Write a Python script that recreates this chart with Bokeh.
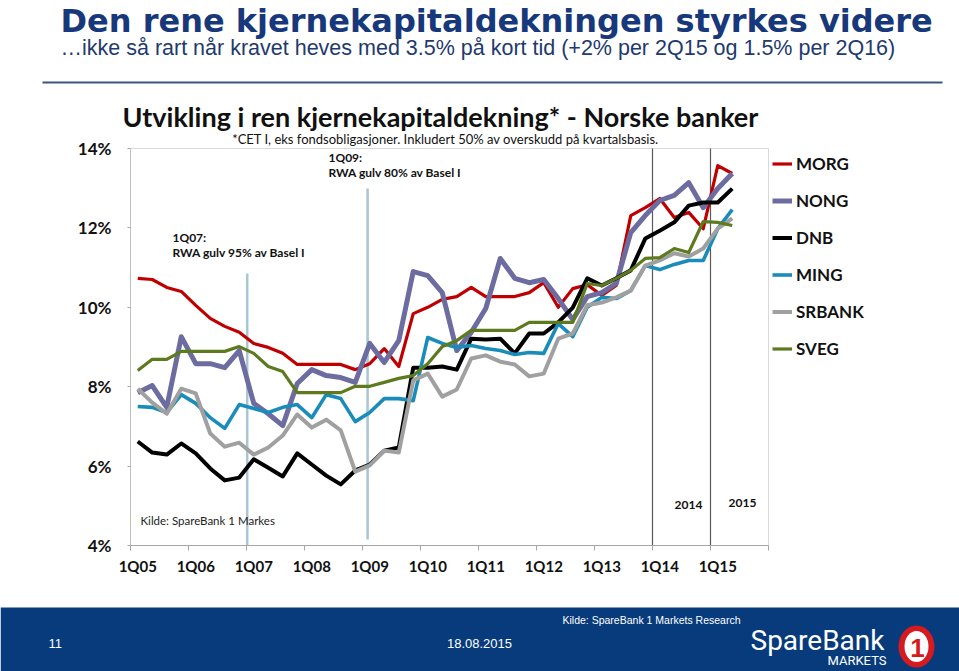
from bokeh.plotting import figure
from bokeh.models import Range1d, FixedTicker, Legend, LegendItem
from bokeh.embed import file_html
from bokeh.resources import INLINE
from bokeh.core.properties import value

# ---------------- data ----------------
quarters = [f"{q}Q{y:02d}" for y in range(5, 16) for q in range(1, 5)][:42]
x_tick_labels = ["1Q05", "1Q06", "1Q07", "1Q08", "1Q09", "1Q10",
                 "1Q11", "1Q12", "1Q13", "1Q14", "1Q15"]
y_tick_values = [4, 6, 8, 10, 12, 14]
y_tick_labels = ["4%", "6%", "8%", "10%", "12%", "14%"]

morg = [10.73, 10.70, 10.50, 10.40, 10.05, 9.72, 9.52, 9.37, 9.09, 8.99,
        8.84, 8.56, 8.56, 8.56, 8.56, 8.43, 8.58, 8.96, 8.51, 9.84,
        10.00, 10.20, 10.27, 10.50, 10.27, 10.27, 10.27, 10.37, 10.62, 10.00,
        10.47, 10.57, 10.30, 10.55, 12.31, 12.51, 12.74, 12.26, 12.39, 11.98,
        13.57, 13.37]
nong = [7.85, 8.03, 7.48, 9.26, 8.58, 8.58, 8.48, 8.91, 7.58, 7.32,
        7.02, 8.08, 8.43, 8.28, 8.23, 8.11, 9.09, 8.61, 9.16, 10.90,
        10.80, 10.37, 8.91, 9.37, 9.97, 11.23, 10.73, 10.62, 10.70, 10.22,
        9.69, 10.27, 10.37, 10.60, 11.88, 12.31, 12.69, 12.82, 13.14, 12.51,
        12.99, 13.37]
dnb = [6.62, 6.34, 6.29, 6.57, 6.32, 5.94, 5.64, 5.71, 6.17, 5.96,
       5.74, 6.32, 6.04, 5.76, 5.54, 5.89, 6.04, 6.39, 6.47, 8.48,
       8.48, 8.51, 8.43, 9.21, 9.19, 9.21, 8.84, 9.34, 9.34, 9.62,
       9.99, 10.73, 10.55, 10.73, 10.93, 11.73, 11.93, 12.14, 12.56, 12.64,
       12.64, 12.99]
ming = [7.50, 7.48, 7.35, 7.80, 7.58, 7.22, 6.95, 7.55, 7.45, 7.35,
        7.48, 7.55, 7.22, 7.80, 7.70, 7.12, 7.35, 7.70, 7.70, 7.65,
        9.24, 9.09, 8.99, 9.04, 8.96, 8.91, 8.81, 8.86, 8.84, 9.59,
        9.26, 10.00, 10.25, 10.22, 10.42, 11.05, 10.95, 11.08, 11.18, 11.18,
        11.98, 12.46]
srbank = [7.95, 7.60, 7.32, 7.95, 7.83, 6.82, 6.49, 6.59, 6.29, 6.47,
          6.77, 7.30, 6.97, 7.17, 6.90, 5.86, 6.02, 6.39, 6.34, 8.16,
          8.33, 7.75, 7.93, 8.71, 8.79, 8.63, 8.56, 8.26, 8.33, 9.21,
          9.34, 10.05, 10.12, 10.25, 10.42, 11.05, 11.18, 11.36, 11.28, 11.48,
          11.98, 12.24]
sveg = [8.41, 8.69, 8.69, 8.89, 8.89, 8.89, 8.89, 9.01, 8.84, 8.51,
        8.38, 7.85, 7.85, 7.85, 7.85, 8.01, 8.01, 8.11, 8.21, 8.28,
        8.58, 9.01, 9.16, 9.42, 9.42, 9.42, 9.42, 9.62, 9.62, 9.62,
        9.62, 10.60, 10.55, 10.73, 10.93, 11.23, 11.25, 11.48, 11.38, 12.16,
        12.14, 12.06]

series_names = ["MORG", "NONG", "DNB", "MING", "SRBANK", "SVEG"]
series_values = [morg, nong, dnb, ming, srbank, sveg]
series_colors = ["#C00000", "#6C6CA0", "#000000", "#1A8CBA", "#A0A0A0", "#5E7A1E"]
series_widths = [3.2, 5.0, 4.0, 3.6, 4.0, 3.2]

# regulatory event markers (quarter positions) and year markers
reg_event_x = [7.55, 15.85]
reg_event_top = [10.85, 12.99]
reg_event_bottom = [4.0, 4.15]
year_marker_x = [35.5, 39.5]

X_MIN, X_MAX = -0.5, 43.5   # plotted quarter span (axis extent)
Y_MIN, Y_MAX = 4, 14        # percent span (axis extent)

W, H = 959, 671
BLUE = "#17387A"
FOOT = "#073B7B"


# page pixel -> data coordinate helpers (used only to place annotations)
def dx(px):
    return X_MIN + (px - 130) / 14.5


def dy(py):
    return Y_MIN + (545 - py) / 39.7


p = figure(width=W, height=H,
           x_range=Range1d(dx(0), dx(W)), y_range=Range1d(dy(H), dy(0)),
           output_backend="svg", toolbar_location=None, tools="", min_border=0)
p.title.visible = False
p.xgrid.visible = False
p.ygrid.visible = False
p.outline_line_color = None
p.background_fill_color = "white"
p.border_fill_color = "white"

# ---- axes (kept in their panels, drawn at fixed positions) ----
maj = [4 * k for k in range(len(x_tick_labels))]
p.xaxis.fixed_location = Y_MIN
p.xaxis.bounds = (X_MIN, X_MAX)
p.xaxis.ticker = FixedTicker(ticks=maj, minor_ticks=[4 * k - 0.5 for k in range(12)])
p.xaxis.major_label_overrides = {m: lab for m, lab in zip(maj, x_tick_labels)}
p.xaxis.major_tick_out = 0
p.xaxis.major_tick_in = 0
p.xaxis.minor_tick_out = 5
p.xaxis.minor_tick_in = 0
p.xaxis.minor_tick_line_color = "#A6A6A6"
p.xaxis.axis_line_color = "#A6A6A6"
p.xaxis.major_label_text_font = "Lato"
p.xaxis.major_label_text_font_style = "bold"
p.xaxis.major_label_text_font_size = "15px"
p.xaxis.major_label_text_color = "#111111"
p.xaxis.major_label_standoff = 6

p.yaxis.fixed_location = X_MIN
p.yaxis.bounds = (Y_MIN, Y_MAX)
p.yaxis.ticker = FixedTicker(ticks=y_tick_values, minor_ticks=[])
p.yaxis.major_label_overrides = {v: lab for v, lab in zip(y_tick_values, y_tick_labels)}
p.yaxis.major_tick_out = 3
p.yaxis.major_tick_in = 0
p.yaxis.major_tick_line_color = "#A6A6A6"
p.yaxis.axis_line_color = "#BFBFBF"
p.yaxis.major_label_text_font = "Lato"
p.yaxis.major_label_text_font_style = "bold"
p.yaxis.major_label_text_font_size = "17px"
p.yaxis.major_label_text_color = "#111111"
p.yaxis.major_label_standoff = 16

# plot-area border (top and right)
p.segment(x0=[X_MIN, X_MAX], y0=[Y_MAX, Y_MIN], x1=[X_MAX, X_MAX], y1=[Y_MAX, Y_MAX],
          line_color="#D9D9D9", line_width=1)

# event lines
p.segment(x0=reg_event_x, y0=reg_event_bottom, x1=reg_event_x, y1=reg_event_top,
          line_color="#A9C5D3", line_width=2.5)
p.segment(x0=year_marker_x, y0=[Y_MIN, Y_MIN], x1=year_marker_x, y1=[Y_MAX, Y_MAX],
          line_color="#595959", line_width=1.2)

x_idx = list(range(len(quarters)))
items = []
for name, vals, color, w in zip(series_names, series_values, series_colors, series_widths):
    r = p.line(x_idx, vals, line_color=color, line_width=w, line_join="round")
    items.append(LegendItem(label=name, renderers=[r]))

legend = Legend(items=items, location=(772, 312), margin=0, padding=8, spacing=16,
                label_height=21, glyph_height=21, glyph_width=20, label_standoff=4,
                label_text_font="Lato", label_text_font_style="bold",
                label_text_font_size="17px", label_text_color="#111111",
                border_line_color=None, background_fill_alpha=0)
p.add_layout(legend)

# texts inside the plot area
p.text(x=[dx(172), dx(172), dx(328), dx(328)],
       y=[dy(237), dy(252), dy(157), dy(172)],
       text=["1Q07:", "RWA gulv 95% av Basel I", "1Q09:", "RWA gulv 80% av Basel I"],
       text_font=value("Lato"), text_font_size=value("12px"), text_font_style="bold",
       text_color="#111111", text_baseline="middle", text_align="left")
p.text(x=[dx(688), dx(742)], y=[dy(504), dy(502)], text=["2014", "2015"],
       text_font=value("Lato"), text_font_size=value("12px"), text_font_style="bold",
       text_color="#111111", text_baseline="middle", text_align="center")
p.text(x=[dx(140)], y=[dy(520)], text=["Kilde: SpareBank 1 Markes"],
       text_font=value("Lato"), text_font_size=value("11.5px"),
       text_color="#222222", text_baseline="middle", text_align="left")


def txt(px, py, s, font, size, color, bold=False, align="left", baseline="middle"):
    p.text(x=[dx(px)], y=[dy(py)], text=[s], text_font=value(font),
           text_font_size=value(size), text_color=color,
           text_font_style="bold" if bold else "normal",
           text_align=align, text_baseline=baseline)


# ---- slide header ----
txt(60, 20, "Den rene kjernekapitaldekningen styrkes videre", "DejaVu Sans", "32px",
    BLUE, bold=True)
txt(60, 47, "\u2026ikke så rart når kravet heves med 3.5% på kort tid (+2% per 2Q15 og 1.5% per 2Q16)",
    "Liberation Sans", "21.5px", "#1E3A6E")
p.segment(x0=[dx(42)], y0=[dy(82)], x1=[dx(942)], y1=[dy(82)], line_color="#3B557F", line_width=2)
txt(122, 116, "Utvikling i ren kjernekapitaldekning* - Norske banker", "Lato", "27px",
    "#111111", bold=True)
txt(445, 138, "*CET I, eks fondsobligasjoner. Inkludert 50% av overskudd på kvartalsbasis.",
    "Lato", "13px", "#111111", align="center")

# ---- footer ----
p.quad(left=[dx(0)], right=[dx(960)], top=[dy(607)], bottom=[dy(680)],
       fill_color=FOOT, line_color=None)
txt(48, 643, "11", "Liberation Sans", "13px", "white")
txt(479, 643, "18.08.2015", "Liberation Sans", "13px", "white", align="center")
txt(562, 619, "Kilde: SpareBank 1 Markets  Research", "Liberation Sans", "10.5px", "white")
txt(750, 640, "SpareBank", "Roboto", "28px", "white")
txt(886, 660, "MARKETS", "Roboto", "13px", "white", align="right")
p.ellipse(x=[dx(916)], y=[dy(646)], width=[36], height=[42], width_units="screen",
          height_units="screen", fill_color="#D71920", line_color=None)
p.ellipse(x=[dx(916)], y=[dy(646)], width=[24], height=[31], width_units="screen",
          height_units="screen", fill_color="white", line_color=None)
txt(917, 647, "1", "Liberation Sans", "26px", "#D71920", bold=True, align="center")

open("out.html", "w").write(file_html(p, INLINE))
